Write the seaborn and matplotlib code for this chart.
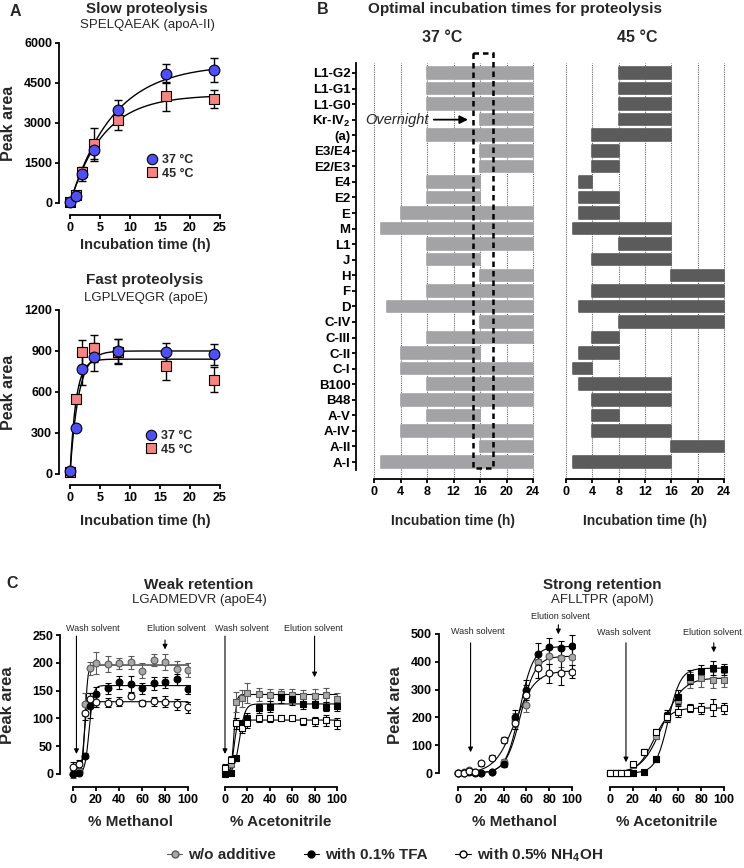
import numpy as np
import matplotlib
matplotlib.use("Agg")
import matplotlib.pyplot as plt
import seaborn as sns
from matplotlib.lines import Line2D
from matplotlib.patches import Rectangle

# ---- A: time course of proteolysis
time_h = [0, 1, 2, 4, 8, 16, 24]
slow_37 = [50, 280, 1080, 2000, 3500, 4850, 5000]
slow_37_err = [40, 60, 250, 350, 380, 350, 450]
slow_45 = [30, 300, 1150, 2200, 3100, 4000, 3900]
slow_45_err = [40, 80, 200, 620, 350, 550, 350]
fast_37 = [20, 340, 770, 855, 900, 895, 875]
fast_37_err = [10, 20, 120, 100, 90, 65, 75]
fast_45 = [15, 550, 890, 920, 895, 790, 690]
fast_45_err = [10, 20, 90, 100, 90, 100, 90]
# one-phase association fits: (plateau, k)
slow_fit_37 = (5200, 0.139)
slow_fit_45 = (4050, 0.18)
fast_fit_37 = (900, 0.7)
fast_fit_45 = (840, 1.0)

# ---- B: optimal incubation windows (h)
proteins = ['L1-G2', 'L1-G1', 'L1-G0', r'Kr-IV$_\mathrm{2}$', '(a)', 'E3/E4', 'E2/E3',
            'E4', 'E2', 'E', 'M', 'L1', 'J', 'H', 'F', 'D', 'C-IV', 'C-III', 'C-II',
            'C-I', 'B100', 'B48', 'A-V', 'A-IV', 'A-II', 'A-I']
start_37 = [8, 8, 8, 16, 8, 16, 16, 8, 8, 4, 1, 8, 8, 16, 8, 2, 16, 8, 4, 4, 8, 4, 8, 4, 16, 1]
end_37 = [24, 24, 24, 24, 24, 24, 24, 16, 16, 24, 24, 24, 16, 24, 24, 24, 24, 24, 16, 24, 24, 24, 16, 24, 24, 24]
start_45 = [8, 8, 8, 8, 4, 4, 4, 2, 2, 2, 1, 8, 4, 16, 4, 2, 8, 4, 2, 1, 2, 4, 4, 4, 16, 1]
end_45 = [16, 16, 16, 16, 16, 8, 8, 4, 8, 8, 16, 16, 16, 24, 24, 24, 24, 8, 8, 4, 16, 16, 8, 16, 24, 16]

# ---- C: SPE retention (peak area vs % organic)
pct = [0, 5, 10, 15, 20, 30, 40, 50, 60, 70, 80, 90, 100]
weak_meoh = [[0, 5, 125, 190, 200, 198, 199, 201, 186, 205, 201, 189, 187],
             [0, 2, 33, 123, 143, 154, 165, 162, 154, 163, 165, 170, 152],
             [12, 18, 110, 135, 130, 128, 130, 141, 128, 131, 130, 125, 120]]
weak_meoh_err = [[8, 6, 20, 12, 20, 14, 10, 12, 14, 10, 14, 14, 12],
                 [3, 3, 5, 22, 14, 10, 12, 14, 10, 12, 10, 10, 8],
                 [10, 8, 12, 10, 10, 8, 8, 5, 5, 8, 10, 10, 10]]
weak_acn = [[5, 18, 130, 136, 146, 143, 142, 143, 142, 141, 141, 142, 135],
            [0, 2, 28, 90, 100, 118, 121, 138, 134, 126, 126, 121, 122],
            [10, 25, 91, 82, 91, 100, 100, 101, 100, 95, 95, 97, 91]]
weak_acn_err = [[8, 10, 18, 15, 18, 12, 10, 10, 10, 10, 12, 12, 10],
                [3, 3, 5, 8, 10, 8, 10, 10, 10, 10, 8, 8, 8],
                [8, 8, 10, 8, 8, 6, 6, 5, 5, 6, 8, 10, 10]]
strong_meoh = [[0, 3, 10, 3, 2, 5, 41, 190, 245, 400, 421, 412, 418],
               [0, 0, 5, 0, 0, 3, 31, 203, 299, 428, 452, 448, 457],
               [0, 2, 8, 3, 35, 56, 119, 179, 281, 376, 358, 361, 365]]
strong_meoh_err = [[3, 3, 3, 3, 3, 3, 10, 25, 25, 30, 30, 30, 30],
                   [3, 3, 3, 3, 3, 3, 10, 25, 35, 40, 35, 25, 40],
                   [3, 3, 3, 3, 10, 8, 10, 20, 35, 35, 35, 45, 25]]
strong_acn = [[0, 0, 0, 0, 29, 77, 134, 197, 263, 335, 341, 335, 335],
              [0, 0, 0, 0, 1, 5, 49, 205, 272, 344, 368, 376, 373],
              [0, 0, 0, 0, 31, 74, 149, 203, 221, 233, 232, 236, 233]]
strong_acn_err = [[3, 3, 3, 3, 5, 8, 10, 15, 20, 30, 30, 30, 25],
                  [3, 3, 3, 3, 3, 3, 8, 20, 25, 25, 20, 25, 20],
                  [3, 3, 3, 3, 5, 8, 10, 15, 20, 15, 20, 30, 20]]
# sigmoid fits: (top, midpoint, width) for w/o additive, TFA, NH4OH
weak_meoh_fit = [(196, 10.5, 1.2), (159, 14, 1.8), (130, 9.5, 1.2)]
weak_acn_fit = [(143, 8, 1.2), (126, 13, 2.5), (97, 8, 1.5)]
strong_meoh_fit = [(420, 55, 6.5), (455, 54, 6), (368, 50, 9)]
strong_acn_fit = [(342, 46, 9), (377, 51, 5.5), (234, 38, 7)]

BLUE = "#5050f2"
SALMON = "#f48582"
LIGHT = "#a3a3a5"
DARK = "#5b5b5b"
STYLES = [("#a8a8a8", "#5a5a5a"), ("black", "black"), ("white", "black")]

sns.set_theme(style="ticks")
plt.rcParams['font.family'] = ['Liberation Sans', 'DejaVu Sans']
plt.rcParams['font.weight'] = 'bold'
plt.rcParams['mathtext.fontset'] = 'custom'
plt.rcParams['mathtext.rm'] = 'Liberation Sans'
plt.rcParams['mathtext.bf'] = 'Liberation Sans:bold'

W, H = 744, 868
fig = plt.figure(figsize=(W / 100, H / 100), dpi=100)


def box(x0, y0, x1, y1):
    return [x0 / W, 1 - y1 / H, (x1 - x0) / W, (y1 - y0) / H]


def ftext(x, y, s, **kw):
    kw.setdefault('ha', 'center')
    kw.setdefault('va', 'center')
    fig.text(x / W, 1 - y / H, s, **kw)


def prism(ax, xb, yb=None, size=8.5, lw=1.3):
    sns.despine(ax=ax, left=yb is None)
    ax.spines['bottom'].set_bounds(*xb)
    ax.spines['bottom'].set_linewidth(lw)
    ax.spines['bottom'].set_color('black')
    if yb is not None:
        ax.spines['left'].set_bounds(*yb)
        ax.spines['left'].set_linewidth(lw)
        ax.spines['left'].set_color('black')
    else:
        ax.tick_params(axis='y', left=False, labelleft=False)
    ax.tick_params(direction='out', length=3, width=lw, pad=2, labelsize=size, colors='black')
    ax.set_xlabel('')
    ax.set_ylabel('')
    ax.set_facecolor('none')


# ================= A =================
def timecourse(ax, y37, e37, y45, e45, fit37, fit45):
    tt = np.linspace(0, 24, 200)
    for p, k in [fit37, fit45]:
        sns.lineplot(x=tt, y=p * (1 - np.exp(-k * tt)), color='black', lw=1, ax=ax)
    ax.errorbar(time_h, y45, yerr=e45, fmt='none', ecolor='black', elinewidth=1, capsize=3, capthick=1, zorder=3)
    ax.errorbar(time_h, y37, yerr=e37, fmt='none', ecolor='black', elinewidth=1, capsize=3, capthick=1, zorder=3)
    sns.scatterplot(x=time_h, y=y45, marker='s', s=45, color=SALMON, edgecolor='black', linewidth=0.8, zorder=4, ax=ax)
    sns.scatterplot(x=time_h, y=y37, marker='o', s=60, color=BLUE, edgecolor='black', linewidth=0.8, zorder=5, ax=ax)
    handles = [Line2D([], [], marker='o', ls='none', mfc=BLUE, mec='black', ms=7.5, mew=0.8),
               Line2D([], [], marker='s', ls='none', mfc=SALMON, mec='black', ms=6.5, mew=0.8)]
    return handles


axA1 = fig.add_axes(box(59, 42, 222, 215))
h = timecourse(axA1, slow_37, slow_37_err, slow_45, slow_45_err, slow_fit_37, slow_fit_45)
axA1.set_xlim(-1.83, 25.33)
axA1.set_ylim(-450, 6037)
axA1.set_xticks(range(0, 26, 5))
axA1.set_yticks(range(0, 6001, 1500))
prism(axA1, (0, 25), (0, 6000), size=9)
axA1.legend(h, ['37 °C', '45 °C'], loc='upper left', bbox_to_anchor=(0.53, 0.35), frameon=False,
            fontsize=9, handlelength=1, handletextpad=0.3, labelspacing=0.1, borderpad=0, borderaxespad=0)

axA2 = fig.add_axes(box(59, 309, 222, 485))
h = timecourse(axA2, fast_37, fast_37_err, fast_45, fast_45_err, fast_fit_37, fast_fit_45)
axA2.set_xlim(-1.83, 25.33)
axA2.set_ylim(-80.5, 1207)
axA2.set_xticks(range(0, 26, 5))
axA2.set_yticks(range(0, 1201, 300))
prism(axA2, (0, 25), (0, 1200), size=9)
axA2.legend(h, ['37 °C', '45 °C'], loc='upper left', bbox_to_anchor=(0.525, 0.31), frameon=False,
            fontsize=9, handlelength=1, handletextpad=0.3, labelspacing=0.1, borderpad=0, borderaxespad=0)

ftext(15, 12, 'A', fontsize=11.5)
ftext(147, 9, 'Slow proteolysis', fontsize=11)
ftext(147, 25, 'SPELQAEAK (apoA-II)', fontsize=9.5, weight='normal')
ftext(145, 245, 'Incubation time (h)', fontsize=10.5)
ftext(9, 123, 'Peak area', fontsize=11.5, rotation=90)
ftext(145, 280, 'Fast proteolysis', fontsize=11)
ftext(146, 298, 'LGPLVEQGR (apoE)', fontsize=9.5, weight='normal')
ftext(145, 521, 'Incubation time (h)', fontsize=10.5)
ftext(9, 392, 'Peak area', fontsize=11.5, rotation=90)

# ================= B =================
rows = np.arange(len(proteins))
axB1 = fig.add_axes(box(356, 63, 536, 479))
axB2 = fig.add_axes(box(548, 63, 728, 479))
for ax, st, en, col, xl in [(axB1, start_37, end_37, LIGHT, (-2.72, 24.45)),
                            (axB2, start_45, end_45, DARK, (-2.74, 24.6))]:
    ax.barh(rows, np.subtract(en, st), left=st, height=0.74, color=col, edgecolor=col,
            linewidth=1.2, joinstyle='round', zorder=2)
    ax.set_xlim(*xl)
    ax.set_ylim(26.09, -0.64)
    ax.set_xticks(range(0, 25, 4))
    ax.grid(axis='x', linestyle=(0, (1, 1)), color='#666666', lw=0.8, zorder=0)
    ax.grid(axis='y', visible=False)

axB1.set_yticks(rows)
axB1.set_yticklabels(proteins)
prism(axB1, (0, 24), (-0.64, 25.5), size=9)
axB1.tick_params(axis='y', labelsize=9.5, pad=1)
prism(axB2, (0, 24), None, size=9)

axB1.annotate('', xy=(14.6, 3), xytext=(8.6, 3),
              arrowprops=dict(arrowstyle='-|>', color='black', lw=1.3, mutation_scale=12))
axB1.text(8.2, 3, 'Overnight', style='italic', weight='normal', ha='right', va='center', fontsize=10.5)
axB1.add_patch(Rectangle((15, -1.29), 3, 26.7, fill=False, ls=(0, (2.2, 1.6)), lw=1.8,
                         ec='black', clip_on=False, zorder=5))

ftext(323, 10, 'B', fontsize=11.5)
ftext(515, 9, 'Optimal incubation times for proteolysis', fontsize=11)
ftext(442, 37, '37 °C', fontsize=11.5)
ftext(637, 37, '45 °C', fontsize=11.5)
ftext(453, 521, 'Incubation time (h)', fontsize=10)
ftext(645, 521, 'Incubation time (h)', fontsize=10)


# ================= C =================
def retention(ax, series, errs, fits, marker):
    xx = np.linspace(0, 100, 300)
    for top, mid, w in fits:
        sns.lineplot(x=xx, y=top / (1 + np.exp(-(xx - mid) / w)), color='black', lw=0.8, ax=ax)
    for vals, err, (fc, ec) in zip(series, errs, STYLES):
        ax.errorbar(pct, vals, yerr=err, fmt='none', ecolor=ec, elinewidth=0.8, capsize=2,
                    capthick=0.8, zorder=3)
        sns.scatterplot(x=pct, y=vals, marker=marker, s=24, color=fc, edgecolor=ec,
                        linewidth=0.8, zorder=4, ax=ax)


def note(ax, label, tx, ty, ax_x, y0, y1):
    ax.annotate('', xy=(ax_x, y1), xytext=(ax_x, y0), annotation_clip=False,
                arrowprops=dict(arrowstyle='-|>', color='black', lw=0.8, mutation_scale=7))
    ax.text(tx, ty, label, ha='center', va='center', fontsize=6.5, weight='normal', clip_on=False)


axC1 = fig.add_axes(box(60, 633, 190, 787))
retention(axC1, weak_meoh, weak_meoh_err, weak_meoh_fit, 'o')
axC1.set_xlim(-11.3, 101.7)
axC1.set_ylim(-23.4, 253.6)
axC1.set_xticks(range(0, 101, 20))
axC1.set_yticks(range(0, 251, 50))
prism(axC1, (0, 100), (0, 250), size=9)
note(axC1, 'Wash solvent', 17.4, 262, 3, 253, 31)
note(axC1, 'Elution solvent', 90, 262, 80, 246, 219)

axC2 = fig.add_axes(box(212, 633, 340, 787))
retention(axC2, weak_acn, weak_acn_err, weak_acn_fit, 's')
axC2.set_xlim(-11.6, 102.7)
axC2.set_ylim(-23.4, 253.6)
axC2.set_xticks(range(0, 101, 20))
prism(axC2, (0, 100), None, size=9)
note(axC2, 'Wash solvent', 15, 262, 0, 253, 31)
note(axC2, 'Elution solvent', 79, 262, 80, 253, 169)

axC3 = fig.add_axes(box(439, 632, 575, 787))
retention(axC3, strong_meoh, strong_meoh_err, strong_meoh_fit, 'o')
axC3.set_xlim(-16.7, 102.6)
axC3.set_ylim(-50, 507)
axC3.set_xticks(range(0, 101, 20))
axC3.set_yticks(range(0, 501, 100))
prism(axC3, (0, 100), (0, 500), size=9)
note(axC3, 'Wash solvent', 17, 507, 11, 478, 65)
note(axC3, 'Elution solvent', 90, 561, 88, 543, 489)

axC4 = fig.add_axes(box(597, 632, 727, 787))
retention(axC4, strong_acn, strong_acn_err, strong_acn_fit, 's')
axC4.set_xlim(-11.4, 102.6)
axC4.set_ylim(-50, 507)
axC4.set_xticks(range(0, 101, 20))
prism(axC4, (0, 100), None, size=9)
note(axC4, 'Wash solvent', 12.3, 504, 14, 478, 29)
note(axC4, 'Elution solvent', 90, 504, 91, 478, 424)

ftext(12, 583, 'C', fontsize=11.5)
ftext(199, 585, 'Weak retention', fontsize=11)
ftext(199, 600, 'LGADMEDVR (apoE4)', fontsize=9.5, weight='normal')
ftext(602, 585, 'Strong retention', fontsize=11)
ftext(602, 600, 'AFLLTPR (apoM)', fontsize=9.5, weight='normal')
ftext(8, 705, 'Peak area', fontsize=12, rotation=90)
ftext(395, 705, 'Peak area', fontsize=12, rotation=90)
ftext(131, 822, '% Methanol', fontsize=11)
ftext(281, 822, '% Acetonitrile', fontsize=11)
ftext(515, 822, '% Methanol', fontsize=11)
ftext(667, 822, '% Acetonitrile', fontsize=11)

leg_handles = [Line2D([0], [0], marker='o', color=ec, mfc=fc, mec=ec, ms=5, lw=0.8) for fc, ec in STYLES]
fig.legend(leg_handles, ['w/o additive', 'with 0.1% TFA', r'with 0.5% NH$_\mathbf{4}$OH'],
           loc='center', bbox_to_anchor=(385 / W, 1 - 855 / H), ncol=3, frameon=False,
           fontsize=11, handlelength=1.0, handletextpad=0.4, columnspacing=1.8)

fig.savefig('out.png', dpi=100)
